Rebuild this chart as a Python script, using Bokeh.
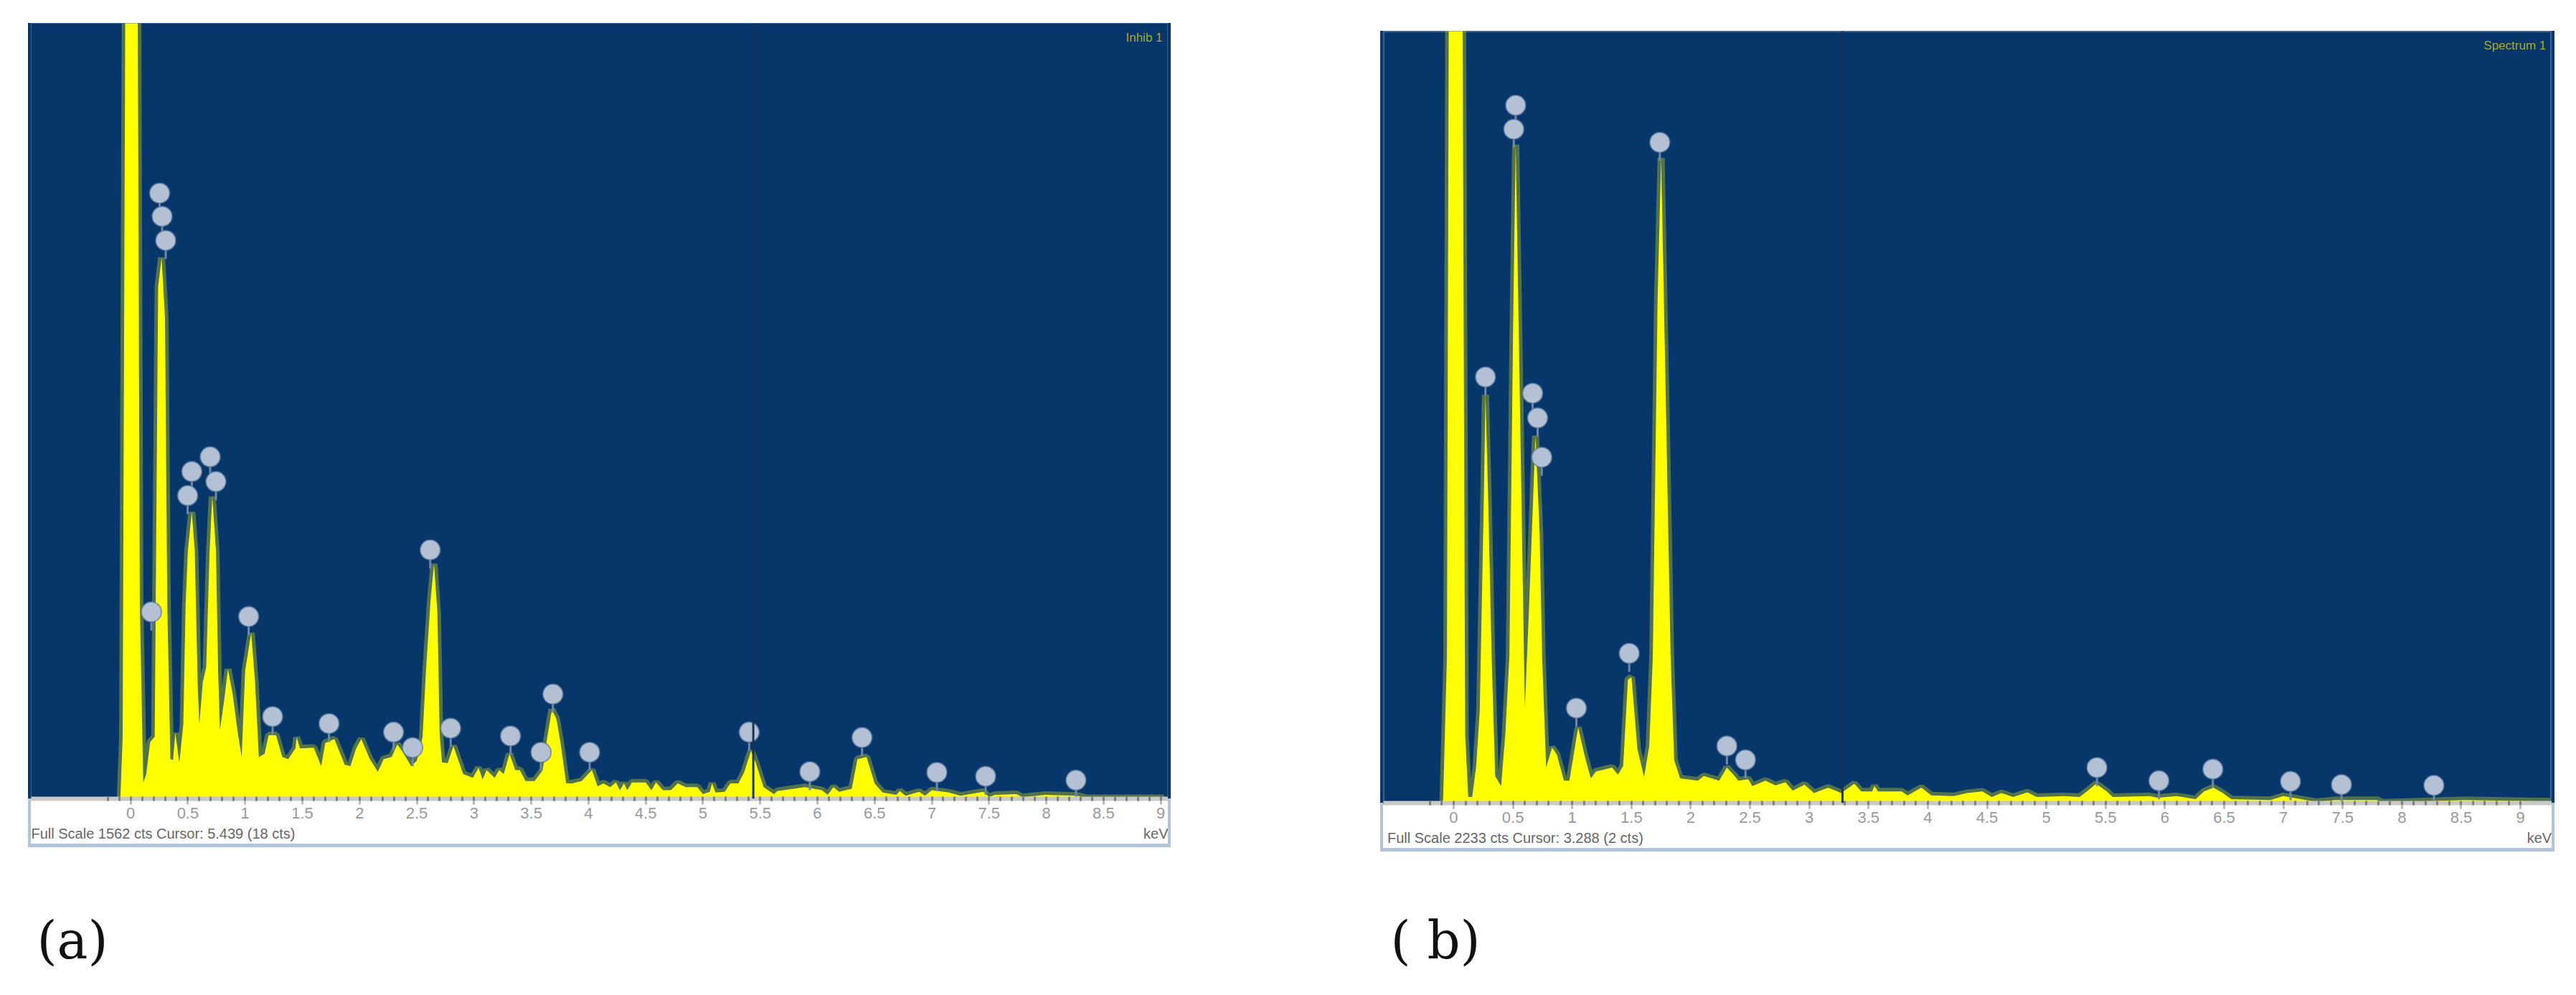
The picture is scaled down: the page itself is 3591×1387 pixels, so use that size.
from bokeh.plotting import figure
from bokeh.layouts import row, column
from bokeh.models import Spacer, Span, Label, FixedTicker, LinearAxis
from bokeh.embed import file_html
from bokeh.resources import INLINE

# Panel (a): energy in keV, counts in percent of full scale
energy_a = [-0.09,-0.07,-0.045,0.06,0.08,0.11,0.136,0.17,0.21,0.24,0.27,0.30,0.32,0.347,0.37,0.39,0.425,0.46,0.48,
 0.50,0.534,0.56,0.585,0.60,0.63,0.66,0.69,0.713,0.745,0.765,0.78,0.815,0.85,0.89,0.935,0.97,1.0,1.053,1.087,1.12,
 1.17,1.206,1.27,1.325,1.376,1.44,1.45,1.48,1.6,1.665,1.70,1.78,1.87,1.92,1.97,2.015,2.09,2.16,2.21,2.28,2.33,2.38,
 2.45,2.5,2.55,2.58,2.62,2.65,2.68,2.70,2.72,2.77,2.82,2.905,2.99,3.04,3.075,3.11,3.18,3.22,3.26,3.31,3.36,3.40,3.45,
 3.53,3.6,3.635,3.68,3.72,3.755,3.805,3.86,3.94,4.03,4.08,4.13,4.19,4.24,4.275,4.31,4.34,4.38,4.5,4.55,4.59,4.65,
 4.72,4.78,4.85,4.95,5.0,5.06,5.08,5.11,5.19,5.24,5.31,5.36,5.42,5.46,5.53,5.62,5.65,5.89,6.04,6.09,6.14,6.19,6.3,
 6.35,6.43,6.5,6.57,6.69,6.72,6.77,6.89,6.94,7.0,7.15,7.25,7.45,7.5,7.55,7.74,7.79,7.99,8.27,8.35,9.03]
counts_a = [0,8,110,110,25,2.1,3.2,7.3,8,66,69.8,62,25,5.1,5,8.5,4.7,9.6,25,
 32,37,32,15,9.6,15,17,32,39,32,16,8.9,12.5,16.7,13.6,8.6,5.4,16.5,21.4,15,5.4,
 5.8,8.2,8.2,5.4,5.1,6.5,7.9,6.5,6.6,4.2,7.2,7.7,4.4,4.2,6.5,7.7,5.1,3.5,5.1,5.4,7,6,
 4.2,4.9,7.9,16.5,25.5,30.3,24,8.2,4.7,4.6,6.8,3.2,2.7,4,2.5,3.7,2.7,3.7,3.2,5.8,3.7,3.7,2.3,
 2.3,3.7,7.5,11.5,10.3,7.3,2,2,2.3,3.7,1.6,2,1.5,2.1,1.1,2,1.1,2.1,2.1,1.1,2.1,1.1,
 1.1,2,1.5,1.5,0.6,0.9,2,0.8,0.9,2,2,3.4,6.2,4.7,1.5,0.6,1,1.5,1.1,0.5,1.5,0.9,1.3,
 5.1,5.4,2,0.8,0.5,1,0.4,0.9,0.4,1.1,0.8,0.4,0.9,0.2,0.5,0.6,0.2,0.5,0.4,0.1,0.1]
marker_x_a = [0.253,0.275,0.306,0.181,0.534,0.498,0.695,0.745,1.031,2.617,1.24,1.733,2.297,2.463,2.796,3.319,3.585,
 3.689,4.01,5.404,5.934,6.39,7.044,7.47,8.259]
marker_y_a = [78.1,75.1,72.0,24.1,42.2,39.1,44.1,40.9,23.5,32.1,10.6,9.7,8.6,6.6,9.1,8.1,6.0,13.5,6.0,8.6,3.5,7.9,3.4,2.9,2.4]
cursor_a = 5.44

# Panel (b)
energy_b = [-0.09,-0.057,-0.04,0.073,0.097,0.123,0.156,0.19,0.22,0.255,0.268,0.29,0.32,0.35,0.40,0.435,0.47,0.50,0.523,
 0.55,0.60,0.635,0.69,0.725,0.746,0.78,0.83,0.87,0.93,0.976,1.05,1.107,1.157,1.2,1.337,1.386,1.43,1.47,1.5,1.55,
 1.606,1.65,1.68,1.72,1.75,1.78,1.83,1.86,1.91,2.06,2.11,2.24,2.305,2.37,2.40,2.485,2.52,2.63,2.715,2.8,2.86,2.96,
 3.04,3.16,3.27,3.38,3.44,3.53,3.55,3.58,3.78,3.83,3.945,4.03,4.22,4.33,4.46,4.54,4.62,4.72,4.84,4.92,5.15,5.28,
 5.35,5.42,5.51,5.56,5.87,5.94,6.1,6.26,6.33,6.41,6.49,6.56,6.89,7.0,7.15,7.28,7.44,7.79,7.84,8.53,9.25]
counts_b = [0,19,110,110,8.8,0.8,0.8,4.8,12,40,52.9,40,19,3.5,2.2,8.8,19,60,85.3,
 60,12.3,25,47.6,35,19,4.6,7.2,6.3,2.9,2.9,9.8,6,3.2,4.1,4.6,3.7,4.8,16,16.3,7,
 3.4,7.4,19,65,83.6,60,19,5.6,3.2,2.9,3.5,2.9,4.6,3.5,2.9,3.1,2.2,2.9,2.3,2.7,1.6,2.4,
 1.3,2,1.3,2.5,1.5,1.5,2.2,1.5,1.5,1,2,1,0.9,1.3,1.5,0.8,1.3,0.8,1.4,0.8,0.9,0.8,
 1.6,2.5,1.5,0.8,0.9,0.7,0.9,0.5,1.5,2,1.3,0.5,0.4,0.9,0.5,0.14,0.4,0.4,0.07,0.4,0.2]
marker_x_b = [0.523,0.507,1.739,0.268,0.666,0.708,0.743,1.035,1.481,2.305,2.462,5.427,5.95,6.405,7.06,7.49,8.27]
marker_y_b = [90.4,87.3,85.6,55.2,53.1,49.9,44.8,12.3,19.4,7.4,5.6,4.6,2.9,4.4,2.8,2.4,2.3]
cursor_b = 3.28

tick_values = [0,0.5,1,1.5,2,2.5,3,3.5,4,4.5,5,5.5,6,6.5,7,7.5,8,8.5,9]
tick_labels = ["0","0.5","1","1.5","2","2.5","3","3.5","4","4.5","5","5.5","6","6.5","7","7.5","8","8.5","9"]
minor_values = [i / 10 for i in range(-2, 91)]
footer_a = "Full Scale 1562 cts Cursor: 5.439 (18 cts)"
footer_b = "Full Scale 2233 cts Cursor: 3.288 (2 cts)"
tag_a = "Inhib 1"
tag_b = "Spectrum 1"
unit = "keV"

BLUE = "#07366a"
YELLOW = "#ffff00"
CHROME = "#b4c4d8"
FOOT_H = 63
EDGE_H = 5


def panel(xs, ys, mx, my, cursor, footer, footer_at, unit_at, tag, x_range, w, frame_h, outline):
    p = figure(width=w, height=frame_h + FOOT_H, x_range=x_range, y_range=(0, 100),
               toolbar_location=None, output_backend="svg", y_axis_location=None, x_axis_location=None,
               min_border_left=0, min_border_right=0, min_border_top=0, min_border_bottom=FOOT_H,
               background_fill_color=BLUE, border_fill_color="white")
    p.grid.visible = False
    p.outline_line_color = "#3a6292"
    p.outline_line_width = outline
    p.line(xs, ys, line_color=YELLOW, line_alpha=0.3, line_width=10)
    p.varea(x=xs, y1=[0] * len(xs), y2=ys, fill_color=YELLOW)
    p.add_layout(Span(location=cursor, dimension="height", line_color="#1a3158", line_width=3))
    p.segment(mx, [v - 2.4 for v in my], mx, [v - 1.2 for v in my], line_color="#6f88a8", line_width=3)
    p.scatter(mx, my, marker="circle", size=28, fill_color="#b4c0d3",
              line_color="#4f7099", line_alpha=0.6, line_width=2)

    # empty shim so that the ruler's thick grey line sits entirely below the spectrum
    shim = LinearAxis(ticker=FixedTicker(ticks=[]), major_label_text_font_size="1px", major_label_text_color=None,
                      major_label_standoff=0, axis_line_color=None, major_tick_in=0, major_tick_out=2,
                      major_tick_line_color=None, minor_tick_line_color=None)
    p.add_layout(shim, "below")

    # grey ruler strip carrying the minor ticks
    ruler = LinearAxis(ticker=FixedTicker(ticks=minor_values), major_label_text_font_size="1px",
                       major_label_text_color=None, major_label_standoff=0, axis_line_color="#c8c8c8",
                       axis_line_width=6, major_tick_in=3, major_tick_out=3, major_tick_line_color="#808080",
                       major_tick_line_width=3, minor_tick_line_color=None)
    p.add_layout(ruler, "below")

    ax = LinearAxis(ticker=FixedTicker(ticks=tick_values), major_label_overrides=dict(zip(tick_values, tick_labels)),
                    major_label_text_font="Liberation Sans", major_label_text_font_size="22px",
                    major_label_text_color="#999999", major_label_standoff=4, axis_line_color=None,
                    major_tick_in=0, major_tick_out=5, major_tick_line_color="#bdbdbd", major_tick_line_width=3,
                    minor_tick_line_color=None)
    p.add_layout(ax, "below")

    # footer row: window caption and unit
    foot = LinearAxis(ticker=FixedTicker(ticks=[footer_at, unit_at]),
                      major_label_overrides={footer_at: footer, unit_at: unit},
                      major_label_text_font="Liberation Sans", major_label_text_font_size="20px",
                      major_label_text_color="#666666", major_label_standoff=7, axis_line_color=None,
                      major_tick_in=0, major_tick_out=0, major_tick_line_color=None, minor_tick_line_color=None)
    p.add_layout(foot, "below")

    p.add_layout(Label(x=x_range[1] - 0.05, y=99, text=tag, text_font="Liberation Sans",
                       text_font_size="17px", text_color="#a3ab2c", text_align="right", text_baseline="top"))
    return p


def edge(frame_h):
    # window edge beside the panel: dark next to the spectrum, light next to the footer
    return column(Spacer(width=4, height=frame_h, styles={"background-color": BLUE}),
                  Spacer(width=4, height=FOOT_H + EDGE_H, styles={"background-color": CHROME}), spacing=0)


def window(p, frame_h):
    bottom = Spacer(width=p.width, height=EDGE_H, styles={"background-color": CHROME})
    return row(edge(frame_h), column(p, bottom, spacing=0), edge(frame_h), spacing=0)


def caption(text, w):
    c = figure(width=w, height=130, x_range=(0, 1), y_range=(0, 1), toolbar_location=None,
               output_backend="svg", x_axis_location=None, y_axis_location=None,
               min_border=0, outline_line_color=None, border_fill_color="white", background_fill_color="white")
    c.grid.visible = False
    c.add_layout(Label(x=0, y=0.5, text=text, text_font="DejaVu Serif", text_font_size="72px",
                       text_color="#111111", text_baseline="middle"))
    return c


a = panel(energy_a, counts_a, marker_x_a, marker_y_a, cursor_a, footer_a, 0.272, 8.96, tag_a, (-0.869, 9.065), 1585, 1081, 1)
b = panel(energy_b, counts_b, marker_x_b, marker_y_b, cursor_b, footer_b, 0.52, 9.16, tag_b, (-0.593, 9.266), 1629, 1076, 3)

left = column(Spacer(height=32), window(a, 1081), Spacer(height=64),
              row(Spacer(width=12), caption("(a)", 200)), spacing=0)
right = column(Spacer(height=43), window(b, 1076), Spacer(height=58),
               row(Spacer(width=14), caption("( b)", 220)), spacing=0)
page = row(Spacer(width=39), left, Spacer(width=292), right, spacing=0)

open("out.html", "w").write(file_html(page, INLINE))
